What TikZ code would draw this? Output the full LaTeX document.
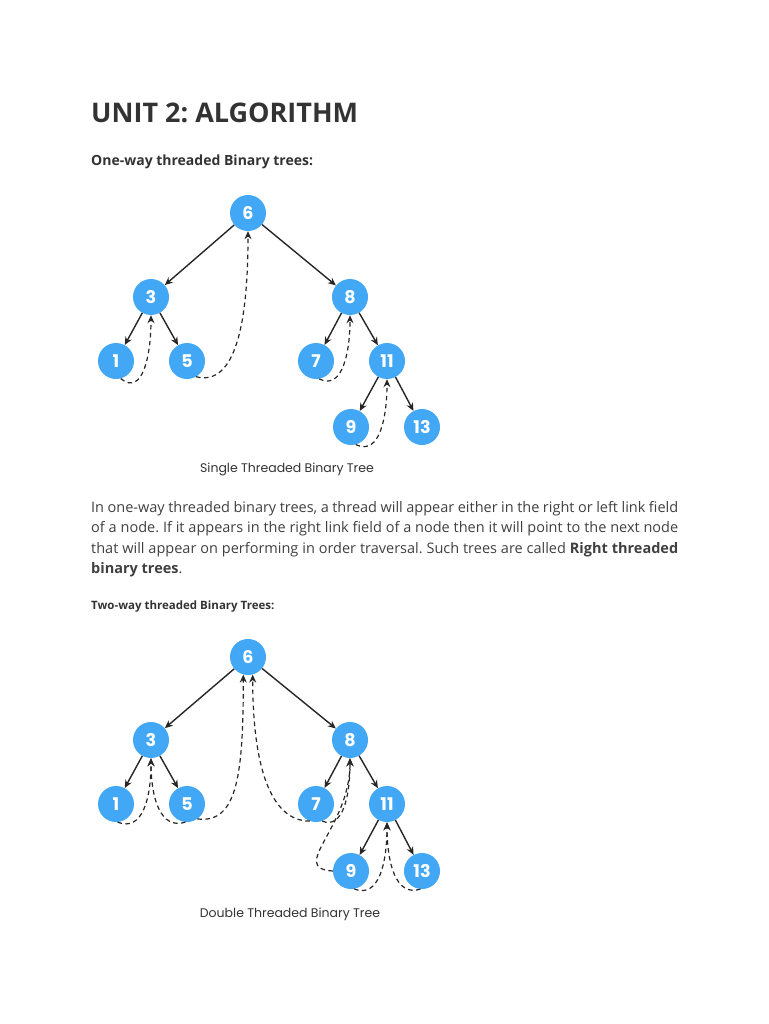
\documentclass[tikz,border=0pt]{standalone}
\usepackage{fontspec}
\setmainfont{Open Sans}
\newfontfamily\capfont{Poppins}
\usetikzlibrary{arrows.meta}
\definecolor{nodeblue}{RGB}{66,167,245}
\definecolor{inkgray}{RGB}{51,51,51}
\definecolor{bodygray}{RGB}{64,64,64}
\frenchspacing
\begin{document}
\begin{tikzpicture}[x=1pt,y=-1pt,
  vert/.style={circle,fill=nodeblue,minimum size=36pt,inner sep=0pt,text=white,font=\capfont\bfseries\fontsize{17.5}{17.5}\selectfont},
  link/.style={-{Stealth[length=8pt,width=7pt]},line width=1.4pt,draw=black!85},
  thread/.style={-{Stealth[length=8pt,width=7pt]},line width=1.2pt,draw=black!85,dash pattern=on 4.5pt off 3.5pt},
  caption/.style={anchor=base,inner sep=0pt,text=inkgray,font=\capfont\fontsize{12.5}{12.5}\selectfont}]
\useasboundingbox (0,0) rectangle (768,1024);
% headings
\node[anchor=base west,inner sep=0pt,text=inkgray,font=\bfseries\fontsize{27}{27}\selectfont] (title) at (91,123) {UNIT 2: ALGORITHM};
\node[anchor=base west,inner sep=0pt,text=inkgray,font=\bfseries\fontsize{14}{14}\selectfont] (onehead) at (91,166) {One-way threaded Binary trees:};
% single threaded tree
\node[vert] (s6) at (248,213) {6};
\node[vert] (s3) at (151,297) {3};
\node[vert] (s8) at (350,297) {8};
\node[vert] (s1) at (116,361) {1};
\node[vert] (s5) at (187,361) {5};
\node[vert] (s7) at (316,361) {7};
\node[vert] (s11) at (387,361) {11};
\node[vert] (s9) at (351,427) {9};
\node[vert] (s13) at (422,427) {13};
\draw[link] (s6) -- (s3);
\draw[link] (s6) -- (s8);
\draw[link] (s3) -- (s1);
\draw[link] (s3) -- (s5);
\draw[link] (s8) -- (s7);
\draw[link] (s8) -- (s11);
\draw[link] (s11) -- (s9);
\draw[link] (s11) -- (s13);
\draw[thread] (s1.-75) .. controls +(22,18) and +(0,40) .. (s3.south);
\draw[thread] (s5.-60) .. controls +(40,10) and +(0,90) .. (s6.south);
\draw[thread] (s7.-80) .. controls +(24,12) and +(0,35) .. (s8.south);
\draw[thread] (s9.-75) .. controls +(25,12) and +(0,35) .. (s11.south);
\node[caption] (onecap) at (287,472) {Single Threaded Binary Tree};
% paragraph
\node[anchor=north west,inner sep=0pt,text width=587pt,align=justify,text=bodygray,font=\fontsize{14.5}{20.5}\selectfont] (para) at (91,501)
  {In one-way threaded binary trees, a thread will appear either in the right or left link field\linebreak
   of a node. If it appears in the right link field of a node then it will point to the next node\linebreak
   that will appear on performing in order traversal. Such trees are called \textbf{Right threaded}\linebreak
   \textbf{binary trees}.};
\node[anchor=base west,inner sep=0pt,text=inkgray,font=\bfseries\fontsize{11.5}{11.5}\selectfont] (twohead) at (91,609) {Two-way threaded Binary Trees:};
% double threaded tree
\node[vert] (d6) at (248,657) {6};
\node[vert] (d3) at (151,740) {3};
\node[vert] (d8) at (350,740) {8};
\node[vert] (d1) at (116,804) {1};
\node[vert] (d5) at (187,804) {5};
\node[vert] (d7) at (316,804) {7};
\node[vert] (d11) at (387,804) {11};
\node[vert] (d9) at (351,871) {9};
\node[vert] (d13) at (422,871) {13};
\draw[link] (d6) -- (d3);
\draw[link] (d6) -- (d8);
\draw[link] (d3) -- (d1);
\draw[link] (d3) -- (d5);
\draw[link] (d8) -- (d7);
\draw[link] (d8) -- (d11);
\draw[link] (d11) -- (d9);
\draw[link] (d11) -- (d13);
\draw[thread] (d1.-85) .. controls +(25,10) and +(0,40) .. (d3.south);
\draw[thread] (d5.-95) .. controls +(-25,8) and +(0,40) .. (d3.south);
\draw[thread] (d5.-55) .. controls +(40,5) and +(0,100) .. (d6.-105);
\draw[thread] (d7.-110) .. controls +(-40,0) and +(0,90) .. (d6.-75);
\draw[thread] (d7.-70) .. controls +(20,8) and +(0,40) .. (d8.south);
\draw[thread] (d9.west) .. controls +(-45,-3) and +(0,70) .. (d8.south);
\draw[thread] (d9.-80) .. controls +(25,10) and +(0,40) .. (d11.south);
\draw[thread] (d13.-95) .. controls +(-25,8) and +(0,40) .. (d11.south);
\node[caption] (twocap) at (290,917) {Double Threaded Binary Tree};
\end{tikzpicture}
\end{document}
